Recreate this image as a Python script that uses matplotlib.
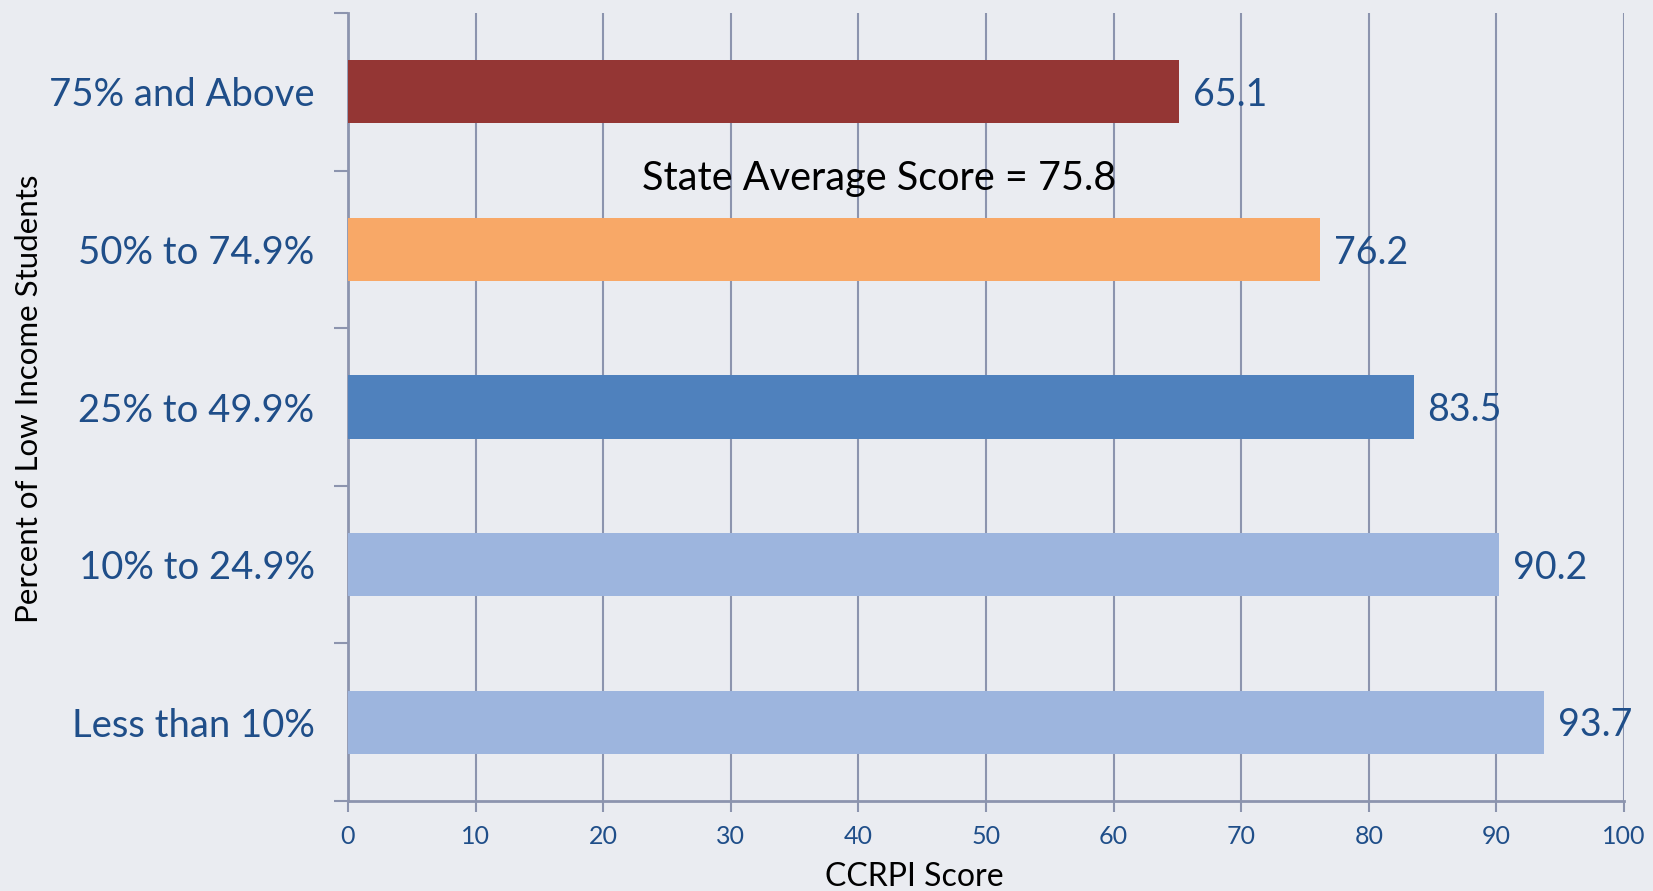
import matplotlib
matplotlib.use("Agg")
import matplotlib.pyplot as plt

# data, bottom to top
categories = ["Less than 10%", "10% to 24.9%", "25% to 49.9%", "50% to 74.9%", "75% and Above"]
scores = [93.7, 90.2, 83.5, 76.2, 65.1]
bar_colors = ["#9DB5DE", "#9DB5DE", "#4F81BD", "#F8A867", "#943634"]
state_avg = 75.8
x_ticks = list(range(0, 101, 10))

plt.rcParams['font.family'] = ['Lato', 'DejaVu Sans']

blue_txt = "#1F4E89"
line_col = "#8C94AE"
bg = "#EAECF1"

fig = plt.figure(figsize=(16.53, 8.91), dpi=100, facecolor=bg)
ax = fig.add_axes([0.2105, 0.101, 0.772, 0.8844])
ax.set_facecolor(bg)

ypos = list(range(len(categories)))
ax.barh(ypos, scores, height=0.4, color=bar_colors, zorder=3)

for y, v in zip(ypos, scores):
    ax.text(v + 1.1, y - 0.02, f"{v}", va='center', ha='left', fontsize=27, color=blue_txt, zorder=4)

ax.text(41.6, 3.45, f"State Average Score = {state_avg}", ha='center', va='center',
        fontsize=28.5, color='black', zorder=4)

ax.set_xlim(0, 100)
ax.set_ylim(-0.5, len(categories) - 0.5)
ax.set_xticks(x_ticks)
ax.set_xticklabels([str(t) for t in x_ticks], fontsize=18, color=blue_txt)

# category labels at centers, ticks at boundaries
ax.set_yticks(ypos)
ax.set_yticklabels(categories, fontsize=27.5, color=blue_txt)
ax.tick_params(axis='y', which='major', length=0, pad=24)
ax.set_yticks([i - 0.5 for i in range(len(categories) + 1)], minor=True)
ax.tick_params(axis='y', which='minor', length=10, width=1.5, color=line_col, direction='out')
ax.tick_params(axis='x', length=8, width=1.5, color=line_col, direction='out', pad=9)

ax.grid(axis='x', color=line_col, linewidth=1.5, zorder=1)
for s in ['top', 'right']:
    ax.spines[s].set_visible(False)
for s in ['left', 'bottom']:
    ax.spines[s].set_color(line_col)
    ax.spines[s].set_linewidth(2)

ax.set_xlabel("CCRPI Score", fontsize=23, color='black', labelpad=10, x=0.444)
ax.set_ylabel("Percent of Low Income Students", fontsize=22.5, color='black')
ax.yaxis.set_label_coords(-0.239, 0.511)

fig.savefig("out.png", dpi=100, facecolor=bg)
